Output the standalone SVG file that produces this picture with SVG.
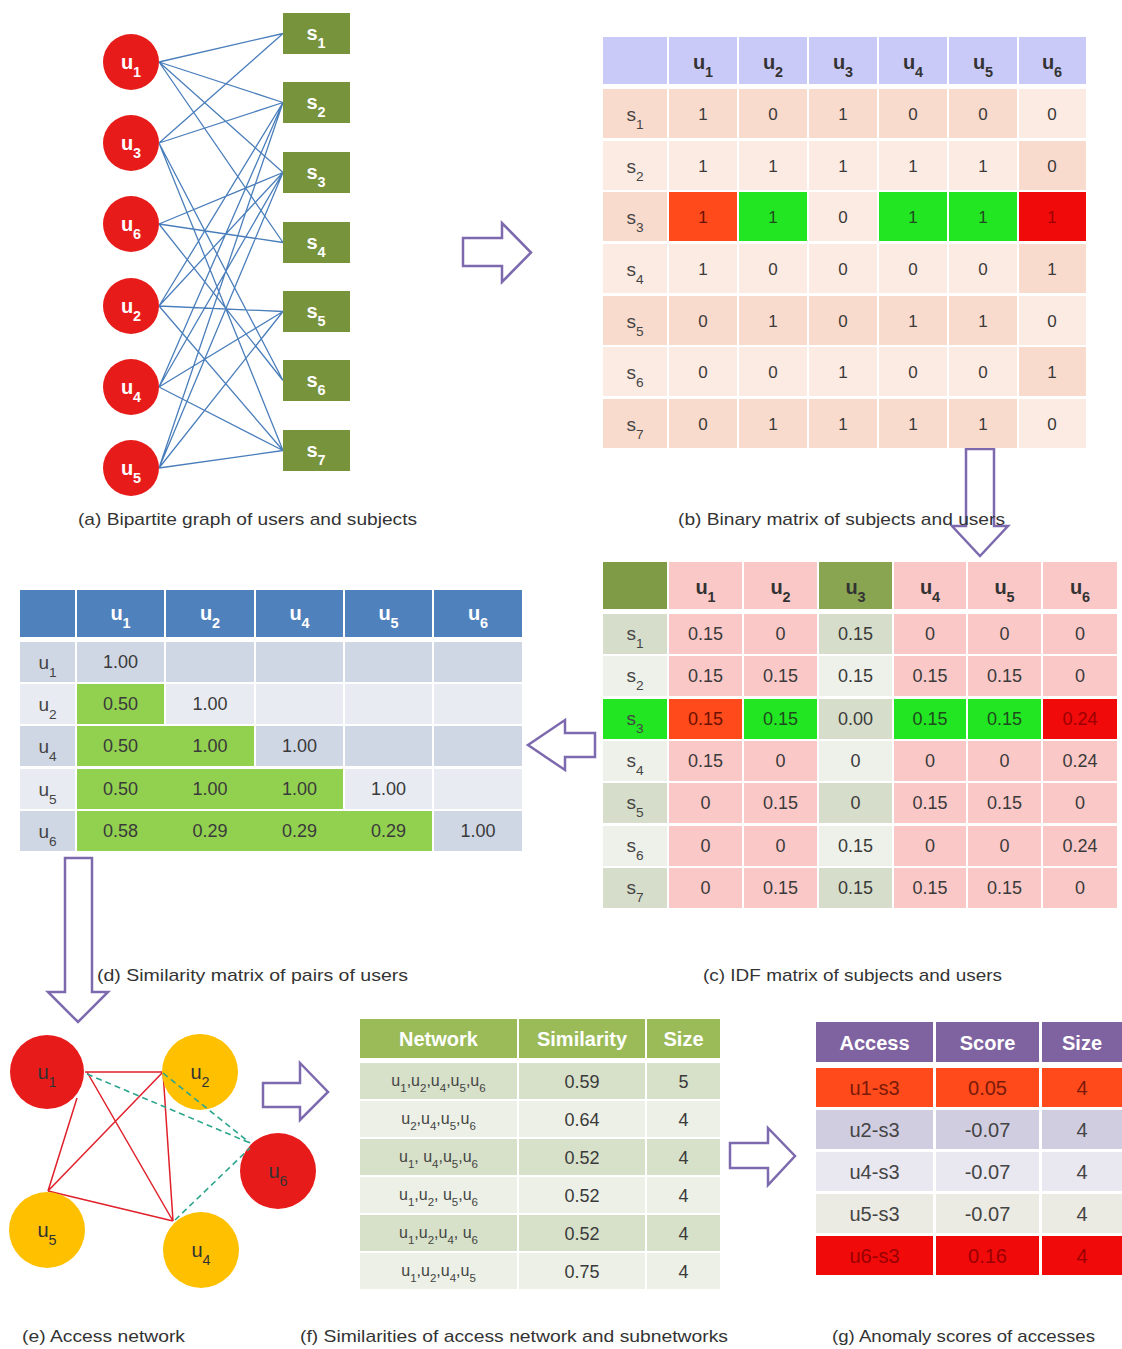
<svg xmlns="http://www.w3.org/2000/svg" width="1122" height="1349" viewBox="0 0 1122 1349">
<style>
  text { font-family: "Liberation Sans", Arial, sans-serif; text-anchor: middle; }
  .sb { font-size: 72%; baseline-shift: sub; }
  .user { fill: #E81B1B; }
  .subj { fill: #77933C; }
  .nl { fill: #FFFFFF; font-weight: bold; font-size: 20px; }
  .edge { stroke: #4A7EBB; stroke-width: 1.3; fill: none; }
  .big-arrow { fill: #FFFFFF; stroke: #7D69AE; stroke-width: 2.5; stroke-linejoin: miter; }
  .hd { font-weight: bold; font-size: 20px; fill: #333333; }
  .hdw { font-weight: bold; font-size: 20px; fill: #FFFFFF; }
  .rl { font-size: 19px; fill: #444444; }
  .v { font-size: 17px; fill: #3A3A3A; }
  .vc { font-size: 18px; fill: #3A3A3A; }
  .cap { font-size: 17px; fill: #333333; }
  .bo { fill: #F9DBCE; } .be { fill: #FCEBE3; }
  .pk { fill: #FBC8C8; } .go { fill: #D6DECB; } .ge { fill: #EEF0EA; }
  .org { fill: #FF4A1C; } .grn { fill: #22E622; } .red { fill: #F00A0A; }
  .dd { fill: #CFD6E4; } .dl { fill: #E8EBF2; } .lg { fill: #92D050; }
  .fo { fill: #D7E0C9; } .fe { fill: #ECF0E6; }
  .red-edge { stroke: #E0202A; stroke-width: 1.5; fill: none; }
  .dash-edge { stroke: #2CA58D; stroke-width: 1.6; stroke-dasharray: 6 4; fill: none; }
  .orange { fill: #FFC000; }
  .al { font-size: 20px; fill: #333333; }
</style>

<!-- ===== (a) bipartite graph: edges ===== -->
<g id="connectors">
  <path class="edge" d="
    M159,62 L283,33.5 M159,62 L283,102.5 M159,62 L283,172.5 M159,62 L283,242.5
    M159,143 L283,33.5 M159,143 L283,102.5 M159,143 L283,380.5 M159,143 L283,450.5
    M159,224 L283,172.5 M159,224 L283,242.5 M159,224 L283,380.5
    M159,306 L283,102.5 M159,306 L283,172.5 M159,306 L283,311.5 M159,306 L283,450.5
    M159,387 L283,102.5 M159,387 L283,172.5 M159,387 L283,311.5 M159,387 L283,450.5
    M159,468 L283,102.5 M159,468 L283,172.5 M159,468 L283,311.5 M159,468 L283,450.5"/>

  <!-- access network edges -->
  <path class="red-edge" d="M85,1072 L163,1072 M77,1098 L48,1191 M87,1072 L173,1221 M163,1072 L48,1191 M163,1072 L173,1221 M48,1191 L173,1221"/>

  <!-- block arrows between panels -->
  <polygon class="big-arrow" points="463,238 502,238 502,223 531,252.5 502,282 502,266 463,266"/>
  <polygon class="big-arrow" points="966,449 994,449 994,526 1008,526 980,556 952,526 966,526"/>
  <polygon class="big-arrow" points="595,733 565,733 565,720 528,745 565,770 565,757 595,757"/>
  <polygon class="big-arrow" points="65,858 92,858 92,992 108,992 78,1022 48,992 65,992"/>
  <polygon class="big-arrow" points="263,1083 300,1083 300,1063 328,1092 300,1120 300,1107 263,1107"/>
  <polygon class="big-arrow" points="730,1143 768,1143 768,1128 795,1156 768,1185 768,1168 730,1168"/>
</g>

<!-- ===== (a) user nodes ===== -->
<g id="user-u1"><circle class="user" cx="131" cy="62" r="28"/><text class="nl" x="131" y="69">u<tspan class="sb">1</tspan></text></g>
<g id="user-u3"><circle class="user" cx="131" cy="143" r="28"/><text class="nl" x="131" y="150">u<tspan class="sb">3</tspan></text></g>
<g id="user-u6"><circle class="user" cx="131" cy="224" r="28"/><text class="nl" x="131" y="231">u<tspan class="sb">6</tspan></text></g>
<g id="user-u2"><circle class="user" cx="131" cy="306" r="28"/><text class="nl" x="131" y="313">u<tspan class="sb">2</tspan></text></g>
<g id="user-u4"><circle class="user" cx="131" cy="387" r="28"/><text class="nl" x="131" y="394">u<tspan class="sb">4</tspan></text></g>
<g id="user-u5"><circle class="user" cx="131" cy="468" r="28"/><text class="nl" x="131" y="475">u<tspan class="sb">5</tspan></text></g>

<!-- ===== (a) subject nodes ===== -->
<g id="subj-s1"><rect class="subj" x="283" y="13" width="67" height="41"/><text class="nl" x="316" y="40">s<tspan class="sb">1</tspan></text></g>
<g id="subj-s2"><rect class="subj" x="283" y="82" width="67" height="41"/><text class="nl" x="316" y="109">s<tspan class="sb">2</tspan></text></g>
<g id="subj-s3"><rect class="subj" x="283" y="152" width="67" height="41"/><text class="nl" x="316" y="179">s<tspan class="sb">3</tspan></text></g>
<g id="subj-s4"><rect class="subj" x="283" y="222" width="67" height="41"/><text class="nl" x="316" y="249">s<tspan class="sb">4</tspan></text></g>
<g id="subj-s5"><rect class="subj" x="283" y="291" width="67" height="41"/><text class="nl" x="316" y="318">s<tspan class="sb">5</tspan></text></g>
<g id="subj-s6"><rect class="subj" x="283" y="360" width="67" height="41"/><text class="nl" x="316" y="387">s<tspan class="sb">6</tspan></text></g>
<g id="subj-s7"><rect class="subj" x="283" y="430" width="67" height="41"/><text class="nl" x="316" y="457">s<tspan class="sb">7</tspan></text></g>

<!-- ===== (b) binary matrix ===== -->
<g id="binary-matrix">
  <g fill="#CACAF8">
    <rect x="603" y="37" width="64" height="47"/>
    <rect x="669" y="37" width="68" height="47"/><rect x="739" y="37" width="68" height="47"/>
    <rect x="809" y="37" width="68" height="47"/><rect x="879" y="37" width="68" height="47"/>
    <rect x="949" y="37" width="68" height="47"/><rect x="1019" y="37" width="67" height="47"/>
  </g>
  <g class="hd">
    <text x="703" y="69">u<tspan class="sb">1</tspan></text><text x="773" y="69">u<tspan class="sb">2</tspan></text>
    <text x="843" y="69">u<tspan class="sb">3</tspan></text><text x="913" y="69">u<tspan class="sb">4</tspan></text>
    <text x="983" y="69">u<tspan class="sb">5</tspan></text><text x="1052" y="69">u<tspan class="sb">6</tspan></text>
  </g>
  <!-- body rows -->
  <g>
    <rect class="bo" x="603" y="89" width="64" height="49"/><rect class="bo" x="669" y="89" width="68" height="49"/><rect class="bo" x="739" y="89" width="68" height="49"/><rect class="bo" x="809" y="89" width="68" height="49"/><rect class="bo" x="879" y="89" width="68" height="49"/><rect class="bo" x="949" y="89" width="68" height="49"/><rect class="be" x="1019" y="89" width="67" height="49"/>
    <rect class="be" x="603" y="141" width="64" height="49"/><rect class="be" x="669" y="141" width="68" height="49"/><rect class="be" x="739" y="141" width="68" height="49"/><rect class="be" x="809" y="141" width="68" height="49"/><rect class="be" x="879" y="141" width="68" height="49"/><rect class="be" x="949" y="141" width="68" height="49"/><rect class="bo" x="1019" y="141" width="67" height="49"/>
    <rect class="bo" x="603" y="192" width="64" height="49"/><rect class="org" x="669" y="192" width="68" height="49"/><rect class="grn" x="739" y="192" width="68" height="49"/><rect class="be" x="809" y="192" width="68" height="49"/><rect class="grn" x="879" y="192" width="68" height="49"/><rect class="grn" x="949" y="192" width="68" height="49"/><rect class="red" x="1019" y="192" width="67" height="49"/>
    <rect class="be" x="603" y="244" width="64" height="49"/><rect class="be" x="669" y="244" width="68" height="49"/><rect class="be" x="739" y="244" width="68" height="49"/><rect class="be" x="809" y="244" width="68" height="49"/><rect class="be" x="879" y="244" width="68" height="49"/><rect class="be" x="949" y="244" width="68" height="49"/><rect class="bo" x="1019" y="244" width="67" height="49"/>
    <rect class="bo" x="603" y="296" width="64" height="49"/><rect class="bo" x="669" y="296" width="68" height="49"/><rect class="bo" x="739" y="296" width="68" height="49"/><rect class="bo" x="809" y="296" width="68" height="49"/><rect class="bo" x="879" y="296" width="68" height="49"/><rect class="bo" x="949" y="296" width="68" height="49"/><rect class="be" x="1019" y="296" width="67" height="49"/>
    <rect class="be" x="603" y="347" width="64" height="49"/><rect class="be" x="669" y="347" width="68" height="49"/><rect class="be" x="739" y="347" width="68" height="49"/><rect class="be" x="809" y="347" width="68" height="49"/><rect class="be" x="879" y="347" width="68" height="49"/><rect class="be" x="949" y="347" width="68" height="49"/><rect class="bo" x="1019" y="347" width="67" height="49"/>
    <rect class="bo" x="603" y="399" width="64" height="49"/><rect class="bo" x="669" y="399" width="68" height="49"/><rect class="bo" x="739" y="399" width="68" height="49"/><rect class="bo" x="809" y="399" width="68" height="49"/><rect class="bo" x="879" y="399" width="68" height="49"/><rect class="bo" x="949" y="399" width="68" height="49"/><rect class="be" x="1019" y="399" width="67" height="49"/>
  </g>
  <g class="rl">
    <text x="635" y="121">s<tspan class="sb">1</tspan></text><text x="635" y="173">s<tspan class="sb">2</tspan></text>
    <text x="635" y="224">s<tspan class="sb">3</tspan></text><text x="635" y="276">s<tspan class="sb">4</tspan></text>
    <text x="635" y="328">s<tspan class="sb">5</tspan></text><text x="635" y="379">s<tspan class="sb">6</tspan></text>
    <text x="635" y="431">s<tspan class="sb">7</tspan></text>
  </g>
  <g class="v">
    <text x="703" y="120">1</text><text x="773" y="120">0</text><text x="843" y="120">1</text><text x="913" y="120">0</text><text x="983" y="120">0</text><text x="1052" y="120">0</text>
    <text x="703" y="172">1</text><text x="773" y="172">1</text><text x="843" y="172">1</text><text x="913" y="172">1</text><text x="983" y="172">1</text><text x="1052" y="172">0</text>
    <text x="703" y="223" fill="#6B1000">1</text><text x="773" y="223" fill="#1E4A1E">1</text><text x="843" y="223">0</text><text x="913" y="223" fill="#1E4A1E">1</text><text x="983" y="223" fill="#1E4A1E">1</text><text x="1052" y="223" fill="#9A0000">1</text>
    <text x="703" y="275">1</text><text x="773" y="275">0</text><text x="843" y="275">0</text><text x="913" y="275">0</text><text x="983" y="275">0</text><text x="1052" y="275">1</text>
    <text x="703" y="327">0</text><text x="773" y="327">1</text><text x="843" y="327">0</text><text x="913" y="327">1</text><text x="983" y="327">1</text><text x="1052" y="327">0</text>
    <text x="703" y="378">0</text><text x="773" y="378">0</text><text x="843" y="378">1</text><text x="913" y="378">0</text><text x="983" y="378">0</text><text x="1052" y="378">1</text>
    <text x="703" y="430">0</text><text x="773" y="430">1</text><text x="843" y="430">1</text><text x="913" y="430">1</text><text x="983" y="430">1</text><text x="1052" y="430">0</text>
  </g>
</g>

<!-- ===== (c) IDF matrix ===== -->
<g id="idf-matrix">
  <rect x="603" y="562" width="64" height="47" fill="#7F9B46"/>
  <rect class="pk" x="669" y="562" width="73" height="47"/><rect class="pk" x="744" y="562" width="73" height="47"/>
  <rect x="819" y="562" width="73" height="47" fill="#8AA552"/>
  <rect class="pk" x="894" y="562" width="72" height="47"/><rect class="pk" x="968" y="562" width="73" height="47"/><rect class="pk" x="1043" y="562" width="74" height="47"/>
  <g class="hd">
    <text x="705.5" y="594">u<tspan class="sb">1</tspan></text><text x="780.5" y="594">u<tspan class="sb">2</tspan></text>
    <text x="855.5" y="594">u<tspan class="sb">3</tspan></text><text x="930" y="594">u<tspan class="sb">4</tspan></text>
    <text x="1004.5" y="594">u<tspan class="sb">5</tspan></text><text x="1080" y="594">u<tspan class="sb">6</tspan></text>
  </g>
  <g>
    <rect class="go" x="603" y="614" width="64" height="40"/><rect class="go" x="819" y="614" width="73" height="40"/>
    <rect class="ge" x="603" y="656" width="64" height="40"/><rect class="ge" x="819" y="656" width="73" height="40"/>
    <rect class="grn" x="603" y="699" width="64" height="40"/><rect class="go" x="819" y="699" width="73" height="40"/>
    <rect class="ge" x="603" y="741" width="64" height="40"/><rect class="ge" x="819" y="741" width="73" height="40"/>
    <rect class="go" x="603" y="783" width="64" height="40"/><rect class="go" x="819" y="783" width="73" height="40"/>
    <rect class="ge" x="603" y="826" width="64" height="40"/><rect class="ge" x="819" y="826" width="73" height="40"/>
    <rect class="go" x="603" y="868" width="64" height="40"/><rect class="go" x="819" y="868" width="73" height="40"/>
  </g>
  <g class="pk">
    <rect x="669" y="614" width="73" height="40"/><rect x="744" y="614" width="73" height="40"/><rect x="894" y="614" width="72" height="40"/><rect x="968" y="614" width="73" height="40"/><rect x="1043" y="614" width="74" height="40"/>
    <rect x="669" y="656" width="73" height="40"/><rect x="744" y="656" width="73" height="40"/><rect x="894" y="656" width="72" height="40"/><rect x="968" y="656" width="73" height="40"/><rect x="1043" y="656" width="74" height="40"/>
    <rect x="669" y="741" width="73" height="40"/><rect x="744" y="741" width="73" height="40"/><rect x="894" y="741" width="72" height="40"/><rect x="968" y="741" width="73" height="40"/><rect x="1043" y="741" width="74" height="40"/>
    <rect x="669" y="783" width="73" height="40"/><rect x="744" y="783" width="73" height="40"/><rect x="894" y="783" width="72" height="40"/><rect x="968" y="783" width="73" height="40"/><rect x="1043" y="783" width="74" height="40"/>
    <rect x="669" y="826" width="73" height="40"/><rect x="744" y="826" width="73" height="40"/><rect x="894" y="826" width="72" height="40"/><rect x="968" y="826" width="73" height="40"/><rect x="1043" y="826" width="74" height="40"/>
    <rect x="669" y="868" width="73" height="40"/><rect x="744" y="868" width="73" height="40"/><rect x="894" y="868" width="72" height="40"/><rect x="968" y="868" width="73" height="40"/><rect x="1043" y="868" width="74" height="40"/>
  </g>
  <rect class="org" x="669" y="699" width="73" height="40"/><rect class="grn" x="744" y="699" width="73" height="40"/>
  <rect class="grn" x="894" y="699" width="72" height="40"/><rect class="grn" x="968" y="699" width="73" height="40"/><rect class="red" x="1043" y="699" width="74" height="40"/>
  <g class="rl">
    <text x="635" y="640">s<tspan class="sb">1</tspan></text><text x="635" y="682">s<tspan class="sb">2</tspan></text>
    <text x="635" y="725">s<tspan class="sb">3</tspan></text><text x="635" y="767">s<tspan class="sb">4</tspan></text>
    <text x="635" y="809">s<tspan class="sb">5</tspan></text><text x="635" y="852">s<tspan class="sb">6</tspan></text>
    <text x="635" y="894">s<tspan class="sb">7</tspan></text>
  </g>
  <g class="vc">
    <text x="705.5" y="640">0.15</text><text x="780.5" y="640">0</text><text x="855.5" y="640">0.15</text><text x="930" y="640">0</text><text x="1004.5" y="640">0</text><text x="1080" y="640">0</text>
    <text x="705.5" y="682">0.15</text><text x="780.5" y="682">0.15</text><text x="855.5" y="682">0.15</text><text x="930" y="682">0.15</text><text x="1004.5" y="682">0.15</text><text x="1080" y="682">0</text>
    <text x="705.5" y="725" fill="#6B1000">0.15</text><text x="780.5" y="725" fill="#1E4A1E">0.15</text><text x="855.5" y="725">0.00</text><text x="930" y="725" fill="#1E4A1E">0.15</text><text x="1004.5" y="725" fill="#1E4A1E">0.15</text><text x="1080" y="725" fill="#9A0000">0.24</text>
    <text x="705.5" y="767">0.15</text><text x="780.5" y="767">0</text><text x="855.5" y="767">0</text><text x="930" y="767">0</text><text x="1004.5" y="767">0</text><text x="1080" y="767">0.24</text>
    <text x="705.5" y="809">0</text><text x="780.5" y="809">0.15</text><text x="855.5" y="809">0</text><text x="930" y="809">0.15</text><text x="1004.5" y="809">0.15</text><text x="1080" y="809">0</text>
    <text x="705.5" y="852">0</text><text x="780.5" y="852">0</text><text x="855.5" y="852">0.15</text><text x="930" y="852">0</text><text x="1004.5" y="852">0</text><text x="1080" y="852">0.24</text>
    <text x="705.5" y="894">0</text><text x="780.5" y="894">0.15</text><text x="855.5" y="894">0.15</text><text x="930" y="894">0.15</text><text x="1004.5" y="894">0.15</text><text x="1080" y="894">0</text>
  </g>
</g>

<!-- ===== (d) similarity matrix ===== -->
<g id="similarity-matrix">
  <g fill="#4F81BD">
    <rect x="20" y="590" width="55" height="47"/><rect x="77" y="590" width="87" height="47"/><rect x="166" y="590" width="88" height="47"/>
    <rect x="256" y="590" width="87" height="47"/><rect x="345" y="590" width="87" height="47"/><rect x="434" y="590" width="88" height="47"/>
  </g>
  <g class="hdw">
    <text x="120.5" y="620">u<tspan class="sb">1</tspan></text><text x="210" y="620">u<tspan class="sb">2</tspan></text>
    <text x="299.5" y="620">u<tspan class="sb">4</tspan></text><text x="388.5" y="620">u<tspan class="sb">5</tspan></text>
    <text x="478" y="620">u<tspan class="sb">6</tspan></text>
  </g>
  <g>
    <rect class="dd" x="20" y="642" width="55" height="40"/><rect class="dd" x="77" y="642" width="87" height="40"/><rect class="dd" x="166" y="642" width="88" height="40"/><rect class="dd" x="256" y="642" width="87" height="40"/><rect class="dd" x="345" y="642" width="87" height="40"/><rect class="dd" x="434" y="642" width="88" height="40"/>
    <rect class="dl" x="20" y="684" width="55" height="40"/><rect class="lg" x="77" y="684" width="87" height="40"/><rect class="dl" x="166" y="684" width="88" height="40"/><rect class="dl" x="256" y="684" width="87" height="40"/><rect class="dl" x="345" y="684" width="87" height="40"/><rect class="dl" x="434" y="684" width="88" height="40"/>
    <rect class="dd" x="20" y="726" width="55" height="40"/><rect class="lg" x="77" y="726" width="177" height="40"/><rect class="dd" x="256" y="726" width="87" height="40"/><rect class="dd" x="345" y="726" width="87" height="40"/><rect class="dd" x="434" y="726" width="88" height="40"/>
    <rect class="dl" x="20" y="769" width="55" height="40"/><rect class="lg" x="77" y="769" width="266" height="40"/><rect class="dl" x="345" y="769" width="87" height="40"/><rect class="dl" x="434" y="769" width="88" height="40"/>
    <rect class="dd" x="20" y="811" width="55" height="40"/><rect class="lg" x="77" y="811" width="355" height="40"/><rect class="dd" x="434" y="811" width="88" height="40"/>
  </g>
  <g class="rl">
    <text x="47.5" y="669">u<tspan class="sb">1</tspan></text><text x="47.5" y="711">u<tspan class="sb">2</tspan></text>
    <text x="47.5" y="753">u<tspan class="sb">4</tspan></text><text x="47.5" y="796">u<tspan class="sb">5</tspan></text>
    <text x="47.5" y="838">u<tspan class="sb">6</tspan></text>
  </g>
  <g class="vc">
    <text x="120.5" y="668">1.00</text>
    <text x="120.5" y="710">0.50</text><text x="210" y="710">1.00</text>
    <text x="120.5" y="752">0.50</text><text x="210" y="752">1.00</text><text x="299.5" y="752">1.00</text>
    <text x="120.5" y="795">0.50</text><text x="210" y="795">1.00</text><text x="299.5" y="795">1.00</text><text x="388.5" y="795">1.00</text>
    <text x="120.5" y="837">0.58</text><text x="210" y="837">0.29</text><text x="299.5" y="837">0.29</text><text x="388.5" y="837">0.29</text><text x="478" y="837">1.00</text>
  </g>
</g>

<!-- ===== (e) access network nodes ===== -->
<g id="net-u1"><circle class="user" cx="47" cy="1072" r="37"/><text class="al" x="47" y="1079">u<tspan class="sb">1</tspan></text></g>
<g id="net-u2"><circle class="orange" cx="200" cy="1072" r="38"/><text class="al" x="200" y="1079">u<tspan class="sb">2</tspan></text></g>
<g id="net-u6"><circle class="user" cx="278" cy="1171" r="38"/><text class="al" x="278" y="1178">u<tspan class="sb">6</tspan></text></g>
<g id="net-u5"><circle class="orange" cx="47" cy="1230" r="38"/><text class="al" x="47" y="1237">u<tspan class="sb">5</tspan></text></g>
<g id="net-u4"><circle class="orange" cx="201" cy="1250" r="38"/><text class="al" x="201" y="1257">u<tspan class="sb">4</tspan></text></g>
<g id="net-dashed-links">
  <path class="dash-edge" d="M87,1074 L250,1143 M163,1073 L250,1143 M175,1220 L250,1148"/>
</g>

<!-- ===== (f) similarities table ===== -->
<g id="similarity-table">
  <g fill="#9BBB59">
    <rect x="360" y="1019" width="157" height="39"/><rect x="519" y="1019" width="126" height="39"/><rect x="647" y="1019" width="73" height="39"/>
  </g>
  <g class="hdw"><text x="438.5" y="1046">Network</text><text x="582" y="1046">Similarity</text><text x="683.5" y="1046">Size</text></g>
  <g>
    <rect class="fo" x="360" y="1063" width="157" height="36"/><rect class="fo" x="519" y="1063" width="126" height="36"/><rect class="fo" x="647" y="1063" width="73" height="36"/>
    <rect class="fe" x="360" y="1101" width="157" height="36"/><rect class="fe" x="519" y="1101" width="126" height="36"/><rect class="fe" x="647" y="1101" width="73" height="36"/>
    <rect class="fo" x="360" y="1139" width="157" height="36"/><rect class="fo" x="519" y="1139" width="126" height="36"/><rect class="fo" x="647" y="1139" width="73" height="36"/>
    <rect class="fe" x="360" y="1177" width="157" height="36"/><rect class="fe" x="519" y="1177" width="126" height="36"/><rect class="fe" x="647" y="1177" width="73" height="36"/>
    <rect class="fo" x="360" y="1215" width="157" height="36"/><rect class="fo" x="519" y="1215" width="126" height="36"/><rect class="fo" x="647" y="1215" width="73" height="36"/>
    <rect class="fe" x="360" y="1253" width="157" height="36"/><rect class="fe" x="519" y="1253" width="126" height="36"/><rect class="fe" x="647" y="1253" width="73" height="36"/>
  </g>
  <g font-size="16" fill="#444444">
    <text x="438.5" y="1086">u<tspan class="sb">1</tspan>,u<tspan class="sb">2</tspan>,u<tspan class="sb">4</tspan>,u<tspan class="sb">5</tspan>,u<tspan class="sb">6</tspan></text>
    <text x="438.5" y="1124">u<tspan class="sb">2</tspan>,u<tspan class="sb">4</tspan>,u<tspan class="sb">5</tspan>,u<tspan class="sb">6</tspan></text>
    <text x="438.5" y="1162">u<tspan class="sb">1</tspan>, u<tspan class="sb">4</tspan>,u<tspan class="sb">5</tspan>,u<tspan class="sb">6</tspan></text>
    <text x="438.5" y="1200">u<tspan class="sb">1</tspan>,u<tspan class="sb">2</tspan>, u<tspan class="sb">5</tspan>,u<tspan class="sb">6</tspan></text>
    <text x="438.5" y="1238">u<tspan class="sb">1</tspan>,u<tspan class="sb">2</tspan>,u<tspan class="sb">4</tspan>, u<tspan class="sb">6</tspan></text>
    <text x="438.5" y="1276">u<tspan class="sb">1</tspan>,u<tspan class="sb">2</tspan>,u<tspan class="sb">4</tspan>,u<tspan class="sb">5</tspan></text>
  </g>
  <g class="vc">
    <text x="582" y="1088">0.59</text><text x="683.5" y="1088">5</text>
    <text x="582" y="1126">0.64</text><text x="683.5" y="1126">4</text>
    <text x="582" y="1164">0.52</text><text x="683.5" y="1164">4</text>
    <text x="582" y="1202">0.52</text><text x="683.5" y="1202">4</text>
    <text x="582" y="1240">0.52</text><text x="683.5" y="1240">4</text>
    <text x="582" y="1278">0.75</text><text x="683.5" y="1278">4</text>
  </g>
</g>

<!-- ===== (g) anomaly scores table ===== -->
<g id="anomaly-table">
  <g fill="#7F63A1">
    <rect x="816" y="1022" width="117" height="40"/><rect x="936" y="1022" width="103" height="40"/><rect x="1042" y="1022" width="80" height="40"/>
  </g>
  <g class="hdw"><text x="874.5" y="1050">Access</text><text x="987.5" y="1050">Score</text><text x="1082" y="1050">Size</text></g>
  <g>
    <rect class="org" x="816" y="1068" width="117" height="39"/><rect class="org" x="936" y="1068" width="103" height="39"/><rect class="org" x="1042" y="1068" width="80" height="39"/>
    <rect fill="#D1CDE0" x="816" y="1110" width="117" height="39"/><rect fill="#D1CDE0" x="936" y="1110" width="103" height="39"/><rect fill="#D1CDE0" x="1042" y="1110" width="80" height="39"/>
    <rect fill="#E9E7F0" x="816" y="1152" width="117" height="39"/><rect fill="#E9E7F0" x="936" y="1152" width="103" height="39"/><rect fill="#E9E7F0" x="1042" y="1152" width="80" height="39"/>
    <rect fill="#ECEBE3" x="816" y="1194" width="117" height="39"/><rect fill="#ECEBE3" x="936" y="1194" width="103" height="39"/><rect fill="#ECEBE3" x="1042" y="1194" width="80" height="39"/>
    <rect class="red" x="816" y="1236" width="117" height="39"/><rect class="red" x="936" y="1236" width="103" height="39"/><rect class="red" x="1042" y="1236" width="80" height="39"/>
  </g>
  <g font-size="20" fill="#444444">
    <text x="874.5" y="1095" fill="#7A1A0A">u1-s3</text><text x="987.5" y="1095" fill="#7A1A0A">0.05</text><text x="1082" y="1095" fill="#7A1A0A">4</text>
    <text x="874.5" y="1137">u2-s3</text><text x="987.5" y="1137">-0.07</text><text x="1082" y="1137">4</text>
    <text x="874.5" y="1179">u4-s3</text><text x="987.5" y="1179">-0.07</text><text x="1082" y="1179">4</text>
    <text x="874.5" y="1221">u5-s3</text><text x="987.5" y="1221">-0.07</text><text x="1082" y="1221">4</text>
    <text x="874.5" y="1263" fill="#9A0000">u6-s3</text><text x="987.5" y="1263" fill="#9A0000">0.16</text><text x="1082" y="1263" fill="#9A0000">4</text>
  </g>
</g>

<!-- ===== captions ===== -->
<g id="captions" class="cap">
  <text x="247.5" y="525" textLength="339" lengthAdjust="spacingAndGlyphs">(a) Bipartite graph of users and subjects</text>
  <text x="841.5" y="525" textLength="327" lengthAdjust="spacingAndGlyphs">(b) Binary matrix of subjects and users</text>
  <text x="852.5" y="981" textLength="299" lengthAdjust="spacingAndGlyphs">(c) IDF matrix of subjects and users</text>
  <text x="252.5" y="981" textLength="311" lengthAdjust="spacingAndGlyphs">(d) Similarity matrix of pairs of users</text>
  <text x="103.5" y="1342" textLength="163" lengthAdjust="spacingAndGlyphs">(e) Access network</text>
  <text x="514" y="1342" textLength="428" lengthAdjust="spacingAndGlyphs">(f) Similarities of access network and subnetworks</text>
  <text x="963.5" y="1342" textLength="263" lengthAdjust="spacingAndGlyphs">(g) Anomaly scores of accesses</text>
</g>
</svg>
